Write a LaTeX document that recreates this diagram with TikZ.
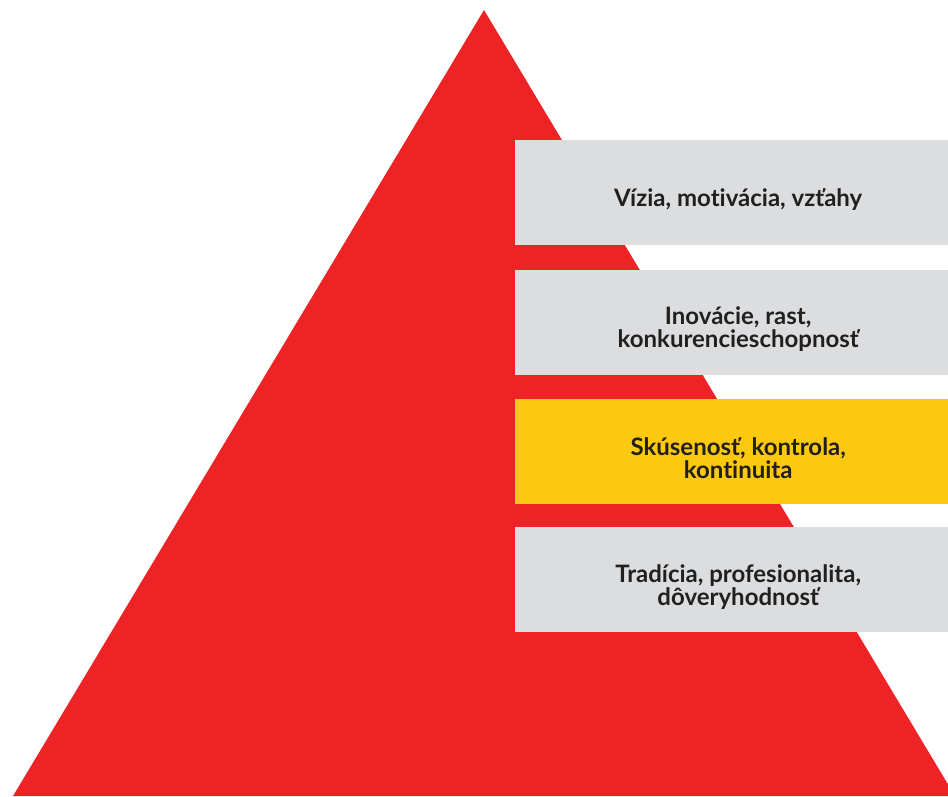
\documentclass[tikz,border=0pt]{standalone}
\usepackage{fontspec}
\setmainfont{Lato}[Ligatures=NoCommon]
\usetikzlibrary{positioning}
\definecolor{pyrred}{HTML}{EE2325}
\definecolor{boxgray}{HTML}{DCDDDF}
\definecolor{boxyellow}{HTML}{FCC910}
\definecolor{txtdark}{HTML}{231F20}
\begin{document}
\begin{tikzpicture}
  [x=1pt, y=-1pt, node distance=24pt,
   tier text/.style={text=txtdark, align=center, yshift=-7pt,
     font=\fontsize{24}{23}\selectfont\bfseries},
   tier/.style={fill=boxgray, minimum width=446pt, minimum height=105pt,
     inner sep=0pt, label={[tier text]center:{#1}}},
   tier hl/.style={tier={#1}, fill=boxyellow}]
  \useasboundingbox (0,0) rectangle (948,796);
  \clip (0,0) rectangle (948,796);
  % pyramid
  \fill[pyrred] (484,10) -- (955,796) -- (13,796) -- cycle;
  % tiers
  \node[tier={Vízia, motivácia, vzťahy}, anchor=north west] (vizia) at (515,140) {};
  \node[tier={Inovácie, rast,\\konkurencieschopnosť}, below=of vizia] (inovacie) {};
  \node[tier hl={Skúsenosť, kontrola,\\kontinuita}, below=of inovacie] (skusenost) {};
  \node[tier={Tradícia, profesionalita,\\dôveryhodnosť}, below=23pt of skusenost] (tradicia) {};
\end{tikzpicture}
\end{document}
